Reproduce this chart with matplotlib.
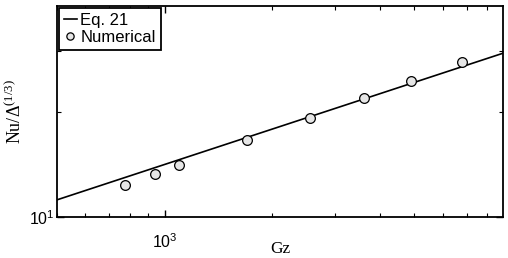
import numpy as np
from matplotlib import pyplot as plt
from matplotlib.ticker import LogLocator, NullFormatter

# Eq. 21 line (end points)
eq_gz = [500, 8850]
eq_nu = [11.2, 29.5]

# numerical results
num_gz = [773, 938, 1099, 1700, 2551, 3614, 4886, 6805]
num_nu = [12.35, 13.25, 14.06, 16.59, 19.25, 21.97, 24.53, 27.86]

fig = plt.figure(figsize=(5.08, 2.58), dpi=100)
ax = fig.add_axes([57/508, 1 - 217/258, (503-57)/508, (217-6)/258])

ax.plot(eq_gz, eq_nu, color='black', lw=1.2, label='Eq. 21')
ax.plot(num_gz, num_nu, 'o', ms=7, mfc='#e6e6e6', mec='black', mew=0.9,
        label='Numerical')

ax.set_xscale('log')
ax.set_yscale('log')
ax.set_xlim(500, 8850)
ax.set_ylim(10, 40.3)

ax.xaxis.set_major_locator(LogLocator(base=10, numticks=10))
ax.xaxis.set_minor_locator(LogLocator(base=10, subs=np.arange(2, 10), numticks=20))
ax.xaxis.set_minor_formatter(NullFormatter())
ax.yaxis.set_major_locator(LogLocator(base=10, numticks=10))
ax.yaxis.set_minor_locator(LogLocator(base=10, subs=[2, 3], numticks=20))
ax.yaxis.set_minor_formatter(NullFormatter())

ax.tick_params(which='both', direction='in', top=True, right=True,
               labelsize=11.5, labelfontfamily='Liberation Sans')
ax.tick_params(axis='x', pad=11)
ax.tick_params(axis='y', pad=2)
ax.tick_params(which='major', length=5, width=1)
ax.tick_params(which='minor', length=3, width=0.8)
for s in ax.spines.values():
    s.set_linewidth(1.3)

ax.set_xlabel('Gz', family='Liberation Serif', fontsize=12.5)
ax.xaxis.set_label_coords(0.5, -0.115)
ax.set_ylabel('Nu/Δ$^{\\mathdefault{(1/3)}}$', family='Liberation Serif',
              fontsize=13)
ax.yaxis.set_label_coords(-0.072, 0.5)

leg = ax.legend(loc='upper left', prop={'family': 'Liberation Sans', 'size': 12},
                fancybox=False, edgecolor='black', framealpha=1,
                handlelength=0.8, handletextpad=0.2, borderpad=0.3,
                labelspacing=0.15, borderaxespad=0.1, markerscale=0.75)
leg.get_frame().set_linewidth(1.3)

fig.savefig('out.png', dpi=100)
